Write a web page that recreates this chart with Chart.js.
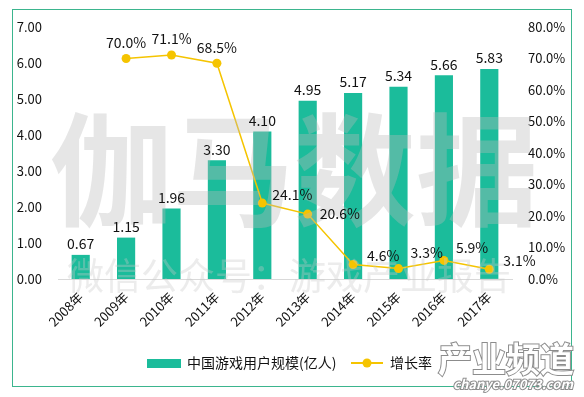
<!DOCTYPE html>
<html>
<head>
<meta charset="utf-8">
<script src="https://cdn.jsdelivr.net/npm/chart.js@4"></script>
<style>
  html, body { margin: 0; padding: 0; background: #fff; }
  #wrap { width: 584px; height: 397px; }
</style>
</head>
<body>
<div id="wrap"><canvas id="gameChart" width="584" height="397"></canvas></div>
<script>
// Data
const years = ['2008年', '2009年', '2010年', '2011年', '2012年', '2013年', '2014年', '2015年', '2016年', '2017年'];
const users = [0.67, 1.15, 1.96, 3.30, 4.10, 4.95, 5.17, 5.34, 5.66, 5.83];
const growth = [null, 70.0, 71.1, 68.5, 24.1, 20.6, 4.6, 3.3, 5.9, 3.1];
const leftTicks = [0, 1, 2, 3, 4, 5, 6, 7];
const rightTicks = [0, 10, 20, 30, 40, 50, 60, 70, 80];

const FONT = '"Noto Sans CJK SC", "Noto Sans", sans-serif';
const TEAL = '#1bbc9b';
const GOLD = '#f5c400';

// label nudges for the growth line (dx, dy from the point)
const lineLabelOffsets = [null, [0, -16, 'center'], [0, -16, 'center'], [0, -16, 'center'],
    [10, -8, 'left'], [12, 0, 'left'], [14, -9, 'left'], [12, -16, 'left'], [12, -13, 'left'], [14, -9, 'left']];

// watermarks, data labels, frame and legend
const decorPlugin = {
    id: 'decor',
    afterDatasetsDraw(chart) {
        const ctx = chart.ctx;
        ctx.save();
        // big watermark
        ctx.fillStyle = 'rgba(185,185,185,0.36)';
        ctx.font = 'bold 122px ' + FONT;
        ctx.textAlign = 'center';
        ctx.textBaseline = 'middle';
        ctx.fillText('伽马数据', 294, 170);
        ctx.fillStyle = 'rgba(200,200,200,0.35)';
        ctx.font = '37px ' + FONT;
        ctx.fillText('微信公众号：游戏产业报告', 289, 276);

        // bar values
        ctx.fillStyle = '#111';
        ctx.font = '14px ' + FONT;
        const barMeta = chart.getDatasetMeta(0);
        barMeta.data.forEach((bar, i) => {
            ctx.textAlign = 'center';
            ctx.fillText(users[i].toFixed(2), bar.x, bar.y - 11);
        });
        // growth values
        const lineMeta = chart.getDatasetMeta(1);
        lineMeta.data.forEach((pt, i) => {
            if (growth[i] == null) return;
            const off = lineLabelOffsets[i];
            ctx.textAlign = off[2];
            ctx.fillText(growth[i].toFixed(1) + '%', pt.x + off[0], pt.y + off[1]);
        });
        ctx.restore();
    },
    afterDraw(chart) {
        const ctx = chart.ctx;
        ctx.save();
        // outer frame
        ctx.strokeStyle = '#3bb58e';
        ctx.lineWidth = 1;
        ctx.strokeRect(12.5, 9.5, 559, 377);

        // legend
        ctx.font = '14px ' + FONT;
        ctx.textBaseline = 'middle';
        ctx.textAlign = 'left';
        ctx.fillStyle = TEAL;
        ctx.fillRect(147, 359, 34, 9);
        ctx.fillStyle = '#111';
        ctx.fillText('中国游戏用户规模(亿人)', 187, 363);
        ctx.strokeStyle = GOLD;
        ctx.lineWidth = 2;
        ctx.beginPath();
        ctx.moveTo(351, 363);
        ctx.lineTo(383, 363);
        ctx.stroke();
        ctx.fillStyle = GOLD;
        ctx.beginPath();
        ctx.arc(367, 363, 4.5, 0, Math.PI * 2);
        ctx.fill();
        ctx.fillStyle = '#111';
        ctx.fillText('增长率', 390, 363);

        // site logo, bottom right, drawn over the frame
        ctx.textAlign = 'center';
        ctx.strokeStyle = '#8c8c8c';
        ctx.lineWidth = 2;
        ctx.fillStyle = '#fff';
        ctx.font = 'bold 34px ' + FONT;
        ctx.strokeText('产业频道', 506, 359);
        ctx.fillText('产业频道', 506, 359);
        ctx.font = 'italic bold 13px ' + FONT;
        ctx.lineWidth = 2;
        ctx.strokeText('chanye.07073.com', 513, 384);
        ctx.fillText('chanye.07073.com', 513, 384);
        ctx.restore();
    }
};

const gameChart = new Chart(document.getElementById('gameChart'), {
    data: {
        labels: years,
        datasets: [
            {
                type: 'bar',
                label: '中国游戏用户规模(亿人)',
                data: users,
                backgroundColor: TEAL,
                barPercentage: 0.4,
                categoryPercentage: 1,
                yAxisID: 'y',
                order: 1
            },
            {
                type: 'line',
                label: '增长率',
                data: growth,
                borderColor: GOLD,
                backgroundColor: GOLD,
                borderWidth: 1.5,
                pointRadius: 4.5,
                pointBackgroundColor: GOLD,
                pointBorderWidth: 0,
                tension: 0,
                yAxisID: 'y1',
                order: 0
            }
        ]
    },
    plugins: [decorPlugin],
    options: {
        responsive: false,
        animation: false,
        layout: {
            padding: { left: 0, right: 0, top: 27, bottom: 58 }
        },
        plugins: {
            legend: { display: false },
            tooltip: { enabled: false }
        },
        scales: {
            x: {
                grid: { display: false },
                border: { display: true, color: '#d9d9d9' },
                ticks: {
                    color: '#111',
                    font: { family: FONT, size: 13 },
                    maxRotation: 45,
                    minRotation: 45,
                    padding: 2
                },
                afterFit(scale) { scale.height = 60; }
            },
            y: {
                position: 'left',
                min: 0,
                max: 7,
                afterBuildTicks(scale) { scale.ticks = leftTicks.map(v => ({ value: v })); },
                grid: { display: false },
                border: { display: false },
                ticks: {
                    color: '#111',
                    padding: 8,
                    font: { family: FONT, size: 13 },
                    callback: v => v.toFixed(2)
                },
                afterFit(scale) { scale.width = 58; }
            },
            y1: {
                position: 'right',
                min: 0,
                max: 80,
                afterBuildTicks(scale) { scale.ticks = rightTicks.map(v => ({ value: v })); },
                grid: { display: false },
                border: { display: false },
                ticks: {
                    color: '#111',
                    padding: 8,
                    font: { family: FONT, size: 13 },
                    callback: v => v.toFixed(1) + '%'
                },
                afterFit(scale) { scale.width = 72; }
            }
        }
    }
});
</script>
</body>
</html>
